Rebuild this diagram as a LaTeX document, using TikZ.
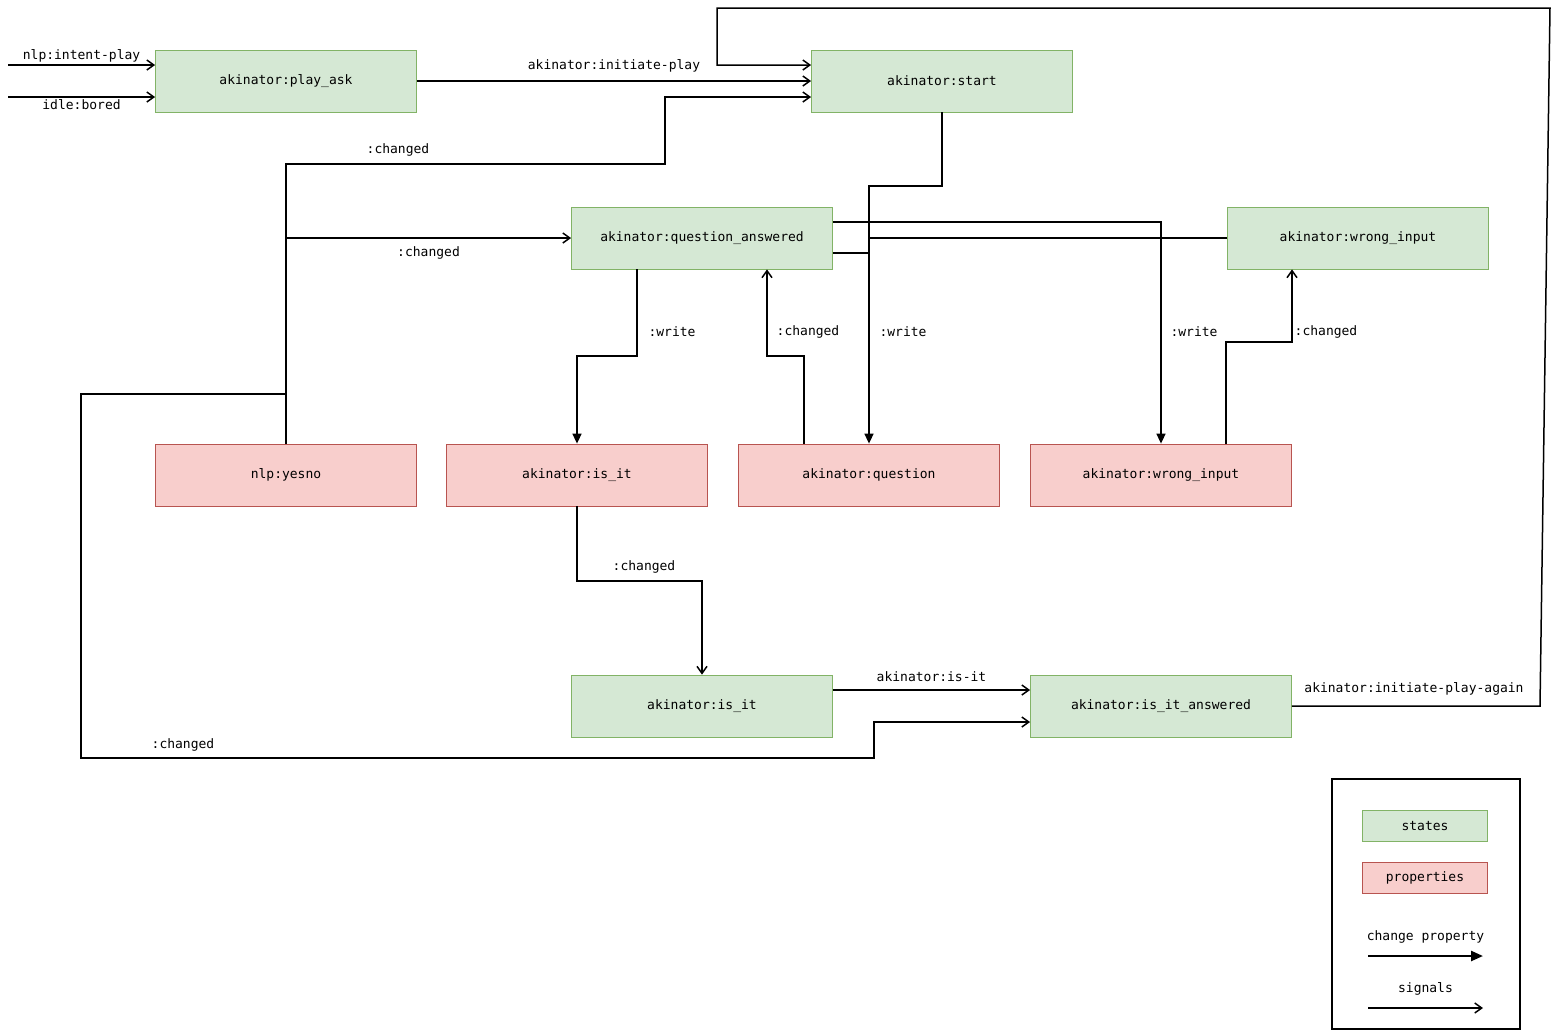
\documentclass[tikz,border=0pt]{standalone}
\usepackage{fontspec}
\setmonofont{DejaVu Sans Mono}
\usetikzlibrary{arrows.meta,positioning}
\tikzset
{
    state/.style    = {rectangle, draw=green!50!black!60, fill=green!50!black!20!white!85, minimum width=130.5pt, minimum height=31pt, inner sep=0pt},
    prop/.style     = {rectangle, draw=red!70!black!70, fill=red!20!white!95, minimum width=130.5pt, minimum height=31pt, inner sep=0pt},
    legendbox/.style= {minimum width=62.5pt, minimum height=15.5pt},
    signal/.style   = {line width=0.75pt, -{Straight Barb[length=3.5pt,width=5pt]}},
    change/.style   = {line width=0.75pt, -{Triangle[length=5pt,width=4.5pt]}},
    lbl/.style      = {font=\fontsize{6.5}{8}\ttfamily, inner sep=1pt}
}
\definecolor{stgreen}{HTML}{D5E8D4}
\definecolor{stgreenb}{HTML}{82B366}
\definecolor{prred}{HTML}{F8CECC}
\definecolor{prredb}{HTML}{B85450}
\tikzset{state/.append style={draw=stgreenb, fill=stgreen}, prop/.append style={draw=prredb, fill=prred}}

\begin{document}
\begin{tikzpicture}[x=0.5pt, y=-0.5pt, every node/.append style={font=\fontsize{6.5}{8}\ttfamily}]
   \useasboundingbox (0,0) rectangle (1560,1030);

   % states
   \node (playask)  [state] at (286, 81)   {akinator:play\_ask};
   \node (start)    [state] at (942, 81)   {akinator:start};
   \node (qans)     [state] at (702, 238)  {akinator:question\_answered};
   \node (wrongst)  [state] at (1358, 238) {akinator:wrong\_input};
   \node (isits)    [state] at (702, 706)  {akinator:is\_it};
   \node (isitans)  [state] at (1161, 706) {akinator:is\_it\_answered};

   % properties
   \node (yesno)    [prop] at (286, 475)  {nlp:yesno};
   \node (isitp)    [prop] at (577, 475)  {akinator:is\_it};
   \node (question) [prop] at (869, 475)  {akinator:question};
   \node (wrongp)   [prop] at (1161, 475) {akinator:wrong\_input};

   % inputs
   \coordinate (inplay)  at (8, 65);
   \coordinate (inbored) at (8, 97);
   \draw[signal] (inplay) -- node[lbl, above] {nlp:intent-play} (inplay -| playask.west);
   \draw[signal] (inbored) -- node[lbl, below] {idle:bored} (inbored -| playask.west);
   \draw[signal] (playask.east) -- node[lbl, above=3pt] {akinator:initiate-play} (start.west);

   % writes
   \draw[change] (start.south) -- (942, 186) -- (869, 186) -- (question.north);
   \draw[line width=0.75pt] (wrongst.west) -- (869, 238);
   \draw[line width=0.75pt] (qans.east |- 0, 253) -- (869, 253);
   \draw[change] (qans.east |- 0, 222) -- (1161, 222) -- (wrongp.north);
   \draw[change] (qans.south -| 637, 0) -- (637, 356) -- (577, 356) -- (isitp.north);
   \node[lbl] at (672, 332) {:write};
   \node[lbl] at (903, 332) {:write};
   \node[lbl] at (1194, 332) {:write};

   % changed
   \draw[signal] (question.north -| 804, 0) -- (804, 356) -- (767, 356) -- (qans.south -| 767, 0);
   \node[lbl] at (808, 332) {:changed};
   \draw[signal] (wrongp.north -| 1226, 0) -- (1226, 342) -- (1292, 342) -- (wrongst.south -| 1292, 0);
   \node[lbl] at (1326, 332) {:changed};
   \draw[signal] (yesno.north) -- (286, 164) -- (665, 164) -- (665, 97) -- (start.west |- 0, 97);
   \node[lbl] at (398, 150) {:changed};
   \draw[signal] (286, 238) -- node[lbl, below=3pt] {:changed} (qans.west);
   \draw[signal] (286, 394) -- (81, 394) -- (81, 758) -- (874, 758) -- (874, 722) -- (isitans.west |- 0, 722);
   \node[lbl] at (183, 745) {:changed};
   \draw[signal] (isitp.south) -- (577, 581) -- (702, 581) -- (isits.north);
   \node[lbl] at (644, 567) {:changed};

   % signals
   \draw[signal] (isits.east |- 0, 690) -- node[lbl, above=3pt] {akinator:is-it} (isitans.west |- 0, 690);
   \draw[signal] (isitans.east) -- (1540, 706) -- (1550, 8) -- (717, 8) -- (717, 65) -- (start.west |- 0, 65);
   \node[lbl] at (1414, 689) {akinator:initiate-play-again};

   % legend
   \draw[line width=0.6pt] (1332, 779) rectangle (1520, 1029);
   \node (lstates) [state, legendbox] at (1425, 826) {states};
   \node (lprops)  [prop, legendbox]  at (1425, 878) {properties};
   \coordinate (lca) at (1368, 956);
   \coordinate (lcb) at (1483, 956);
   \coordinate (lsa) at (1368, 1008);
   \coordinate (lsb) at (1483, 1008);
   \draw[line width=1.2pt, -{Triangle[length=6pt,width=5pt]}] (lca) -- node[lbl, above=5pt] {change property} (lcb);
   \draw[signal] (lsa) -- node[lbl, above=5pt] {signals} (lsb);
\end{tikzpicture}
\end{document}
